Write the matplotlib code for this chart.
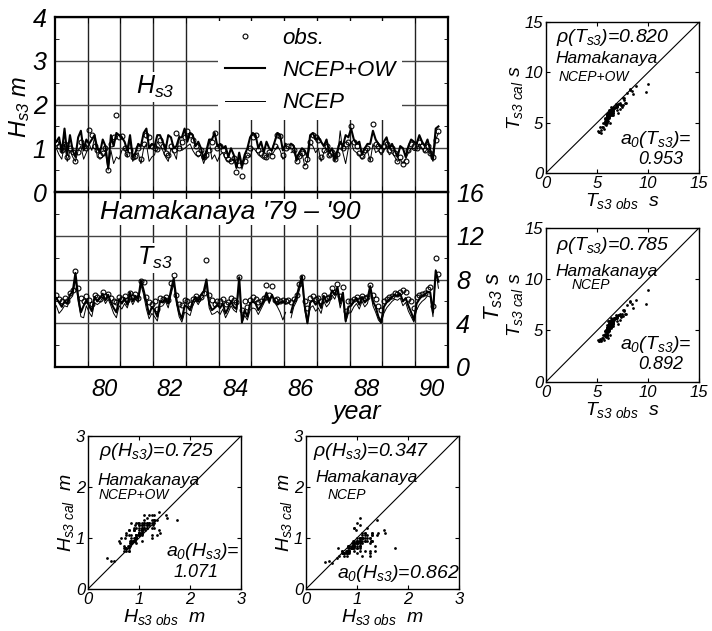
import numpy as np
import matplotlib
matplotlib.use('Agg')
import matplotlib.pyplot as plt
from matplotlib.lines import Line2D

plt.rcParams['font.family'] = ['Liberation Sans', 'DejaVu Sans']
plt.rcParams['font.style'] = 'italic'
plt.rcParams['mathtext.fontset'] = 'custom'
plt.rcParams['mathtext.rm'] = 'Liberation Sans:italic'
plt.rcParams['mathtext.it'] = 'Liberation Sans:italic'
plt.rcParams['mathtext.sf'] = 'Liberation Sans:italic'
plt.rcParams['mathtext.bf'] = 'Liberation Sans:italic:bold'

nan = np.nan

# monthly values, Jan 1979 - Sep 1990
hs_obs = [1.12, 1.05, 0.95, 1.10, 0.80, 1.00, 0.92, 0.72, 0.92, 1.15, 1.05, 1.00,
          1.42, 1.30, 1.05, 0.95, 0.85, 0.90, 1.00, 0.50, 1.10, 1.25, 1.75, 1.25,
          1.28, 1.00, 0.88, 0.95, 0.80, 0.82, 1.00, 0.75, 1.10, 1.30, 1.25, 1.05,
          1.00, 0.98, 1.20, 1.05, 0.90, 0.85, 1.05, 0.95, 1.35, 1.00, 1.15, 1.25,
          1.40, 1.30, 1.20, 1.05, 0.90, 0.95, 0.80, 0.85, 0.95, 1.15, 1.35, 1.00,
          1.05, 0.95, 0.85, 0.75, 0.72, 0.78, 0.46, 0.62, 0.37, 0.70, 0.85, 1.00,
          1.25, 1.30, 0.95, 0.90, 0.85, 0.80, 0.92, 0.82, 1.05, 1.30, 1.28, 0.85,
          1.00, 1.05, 1.05, 0.95, 0.70, 0.82, 0.90, 0.60, 0.75, 1.15, 1.30, 1.25,
          1.20, 0.80, 0.95, 1.05, 0.85, 0.92, 0.75, 0.88, 1.05, 1.00, 1.10, 1.15,
          1.52, 1.15, 1.05, 0.90, 0.82, 0.95, 1.00, 0.75, 1.55, 1.10, 1.05, 0.95,
          1.05, 1.10, 0.95, 1.00, 0.90, 0.72, 0.80, 0.65, 0.70, 0.95, 1.10, 1.05,
          1.00, 1.15, 1.05, 0.95, 1.05, 0.90, 0.80, 1.20, 1.40]
hs_ow = [1.15, 1.25, 0.90, 1.45, 0.85, 1.30, 0.95, 0.80, 1.25, 1.40, 0.95, 1.20,
         1.10, 1.20, 1.30, 1.00, 0.90, 1.20, 1.05, 0.55, 1.30, 1.05, 1.35, 1.30,
         1.25, 1.15, 0.95, 1.30, 0.80, 0.90, 1.10, 1.05, 1.35, 1.45, 1.00, 1.10,
         1.05, 1.30, 1.30, 1.15, 0.95, 1.30, 1.25, 1.00, 1.05, 1.25, 1.25, 1.45,
         1.15, 1.35, 1.30, 1.05, 1.15, 1.00, 0.75, 0.95, 1.20, 1.20, 1.35, 1.05,
         1.10, 1.00, 1.05, 0.80, 1.00, 0.85, 0.55, 0.90, 0.60, 0.85, 1.00, 1.25,
         1.35, 1.30, 1.00, 1.15, 0.90, 1.15, 1.00, 0.95, 1.15, 1.35, 1.30, 0.95,
         1.10, nan, 1.10, 1.05, 0.75, 0.90, 1.00, 0.95, 0.80, 1.30, 1.35, 1.20,
         1.25, 1.15, 1.05, 1.20, 0.90, 1.00, 0.75, 0.95, 1.15, 1.05, 1.30, 1.25,
         1.45, 1.20, 1.10, 1.15, 0.85, 1.00, 1.10, 1.10, 1.40, 1.20, 1.10, 1.00,
         1.15, 1.25, 1.00, 1.10, 0.95, 0.80, 1.05, 1.00, 0.80, 1.05, 1.20, 1.15,
         1.10, 1.30, 1.15, 1.05, 1.20, 0.95, 0.75, 1.45, 1.50]
hs_ncep = [1.00, 0.85, 0.75, 1.10, 0.70, 0.95, 0.80, 0.70, 0.95, 1.05, 0.75, 0.90,
           1.10, 0.95, 1.25, 0.80, 0.75, 0.80, 0.90, 0.50, 0.95, 0.65, 0.80, 0.75,
           0.95, 1.00, 0.80, 1.20, 0.70, 0.85, 0.90, 0.65, 1.00, 1.10, 0.70, 0.80,
           0.85, 1.15, 1.05, 0.95, 0.80, 0.70, 1.00, 0.90, 0.75, 1.30, 0.95, 1.00,
           1.05, 1.10, 0.95, 0.85, 0.80, 0.85, 0.65, 0.85, 1.20, 0.75, 0.85, 0.70,
           0.85, 0.90, 0.75, 0.70, 0.70, 0.75, 0.55, 0.80, 0.52, 0.75, 0.85, 0.80,
           1.00, 0.95, 0.85, 0.80, 0.75, 0.75, 0.90, 0.85, 0.95, 1.05, 0.95, 0.75,
           0.80, nan, 0.90, 0.95, 0.70, 0.80, 0.90, 0.60, 0.70, 1.10, 1.05, 0.90,
           1.00, 0.70, 0.90, 1.00, 0.80, 0.85, 0.70, 0.80, 1.40, 0.90, 0.65, 1.00,
           1.15, 0.95, 0.90, 0.85, 0.75, 0.85, 0.95, 0.70, 1.10, 0.90, 0.95, 0.85,
           0.95, 1.05, 0.85, 0.90, 0.80, 0.70, 0.75, 0.65, 0.75, 0.90, 1.00, 0.95,
           0.95, 1.10, 1.00, 0.90, 1.00, 0.85, 0.70, 1.20, 1.35]

ts_obs = [6.6, 6.2, 6.0, 6.3, 6.0, 6.8, 7.0, 8.8, 7.2, 6.3, 6.0, 6.5,
          6.1, 5.8, 6.6, 6.4, 6.2, 6.9, 6.5, 6.7, 6.3, 6.0, 5.9, 6.4,
          6.2, 6.5, 6.1, 6.8, 6.4, 6.7, 6.3, 7.9, 7.8, 6.4, 5.9, 5.8,
          6.0, 5.3, 6.3, 6.2, 6.4, 6.1, 7.7, 8.4, 6.6, 5.8, 5.7, 6.1,
          6.0, 5.8, 6.2, 6.5, 6.2, 6.4, 6.8, 9.8, 6.6, 6.1, 5.8, 6.0,
          6.0, 6.2, 5.8, 5.9, 6.3, 6.1, 5.9, 8.2, 5.2, 6.0, 5.5, 6.1,
          6.4, 6.2, 5.9, 6.0, 6.3, 7.5, 6.6, 7.4, 6.1, 6.2, 6.0, 6.1,
          6.0, 6.1, 5.9, 6.2, 6.6, 7.6, 8.2, 6.0, 5.4, 6.3, 6.5, 6.2,
          6.3, 6.0, 6.6, 6.3, 6.4, 7.2, 6.9, 7.6, 6.5, 7.3, 5.1, 6.0,
          6.0, 6.2, 6.4, 6.1, 6.5, 6.3, 6.4, 7.5, 6.6, 6.2, 5.6, 5.2,
          6.0, 6.2, 6.4, 6.5, 6.8, 6.7, 6.9, 7.0, 6.9, 6.2, 6.0, 5.4,
          6.4, 6.6, 6.7, 6.8, 7.1, 7.3, 5.6, 10.0, 8.5]
ts_ow = [6.3, 5.9, 5.5, 6.0, 5.8, 6.6, 6.9, 8.6, 6.4, 5.0, 5.6, 6.1,
         5.6, 5.1, 6.4, 6.0, 6.3, 6.7, 6.1, 6.6, 5.9, 5.4, 5.0, 6.2,
         5.8, 6.3, 5.7, 6.8, 6.0, 6.5, 6.2, 7.9, 7.0, 5.9, 4.8, 5.5,
         5.2, 4.6, 6.0, 5.9, 6.3, 5.8, 7.0, 8.1, 6.2, 5.0, 4.4, 5.6,
         5.5, 5.2, 6.0, 6.4, 6.0, 6.6, 6.9, 8.0, 5.8, 5.2, 5.4, 5.7,
         5.4, 5.8, 4.9, 5.4, 6.0, 5.5, 5.3, 8.2, 4.1, 5.2, 4.6, 5.8,
         6.0, 5.8, 5.2, 5.6, 6.1, 6.8, 6.0, 6.6, 6.0, 5.7, 5.9, 6.0,
         5.8, nan, 5.0, 5.9, 6.4, 7.4, 8.3, 5.6, 4.0, 5.9, 6.1, 5.7,
         6.0, 5.4, 6.5, 5.9, 6.2, 7.0, 6.6, 7.3, 5.8, 6.8, 4.2, 5.5,
         5.6, 6.0, 6.3, 5.7, 6.4, 5.9, 6.2, 7.4, 6.0, 5.5, 4.6, 4.1,
         5.5, 5.9, 6.2, 6.4, 6.6, 6.5, 6.7, 6.0, 6.3, 5.6, 5.0, 4.3,
         5.8, 6.2, 6.5, 6.6, 6.9, 6.8, 5.0, 8.8, 7.8]
ts_ncep = [5.6, 4.9, 5.2, 5.6, 5.5, 6.2, 6.5, 8.0, 6.0, 4.6, 4.5, 5.6,
           5.0, 4.6, 5.9, 5.7, 5.9, 6.4, 5.8, 6.2, 5.6, 4.9, 4.5, 5.6,
           5.3, 5.8, 5.4, 6.3, 5.7, 6.2, 5.9, 7.5, 6.6, 5.3, 4.4, 4.9,
           4.6, 4.2, 5.5, 5.6, 6.0, 5.4, 6.6, 7.6, 5.8, 4.6, 4.1, 5.0,
           4.9, 4.7, 5.6, 6.1, 5.7, 6.2, 6.5, 7.6, 5.4, 4.8, 4.9, 5.1,
           4.8, 5.3, 4.5, 5.0, 5.6, 5.2, 5.0, 7.8, 4.0, 4.7, 4.3, 5.2,
           5.4, 5.3, 4.8, 5.3, 5.8, 6.4, 5.8, 6.6, 5.9, 5.5, 5.0, 4.3,
           5.0, nan, 4.5, 5.5, 6.0, 7.0, 7.9, 5.2, 4.0, 5.4, 5.6, 5.1,
           5.4, 4.9, 6.0, 5.5, 5.8, 6.6, 6.2, 6.9, 5.4, 6.3, 4.1, 4.9,
           5.0, 5.5, 5.8, 5.3, 6.0, 5.5, 5.8, 7.0, 5.6, 5.0, 4.3, 4.0,
           4.9, 5.4, 5.7, 6.0, 6.2, 6.1, 6.3, 5.6, 5.9, 5.1, 4.6, 4.1,
           5.2, 5.7, 6.0, 6.2, 6.5, 6.4, 4.6, 8.9, 7.2]

t = 1979 + (np.arange(len(hs_obs)) + 0.5) / 12
year_lines = np.arange(1980, 1991)
year_labels = ['80', '82', '84', '86', '88', '90']

fig = plt.figure(figsize=(7.12, 6.31), dpi=100)
ax1 = fig.add_axes([0.0772, 0.6957, 0.552, 0.2773])
ax2 = fig.add_axes([0.0772, 0.4184, 0.552, 0.2773])

for ax in (ax1, ax2):
    ax.set_xlim(1979, 1991)
    ax.set_xticks(year_lines, minor=True)
    ax.set_xticks(np.arange(1980.5, 1991, 2))
    ax.grid(True, which='minor', axis='x', color='#222222', lw=1.0)
    ax.grid(True, which='major', axis='y', color='#444444', lw=1.0)
    ax.tick_params(axis='x', which='minor', direction='in', top=True, bottom=True, length=4)
    ax.tick_params(axis='x', which='major', length=0)
    ax.tick_params(axis='y', which='minor', direction='in', left=True, right=True, length=3)
    ax.tick_params(axis='y', which='major', length=0)
    for s in ax.spines.values():
        s.set_linewidth(1.6)

# Hs panel
ax1.plot(t, hs_ncep, color='black', lw=0.7)
ax1.plot(t, hs_ow, color='black', lw=1.5)
ax1.plot(t, hs_obs, 'o', ms=3.5, mfc='none', mec='black', mew=0.8)
ax1.set_ylim(0, 4)
ax1.set_yticks([0, 1, 2, 3, 4])
ax1.set_yticks(np.arange(0.5, 4, 1), minor=True)
ax1.tick_params(axis='x', labelbottom=False)
ax1.tick_params(axis='y', labelsize=18, pad=6)
ax1.text(0.254, 0.6, r'$H_{s3}$', transform=ax1.transAxes, fontsize=18,
         ha='center', va='center', bbox=dict(fc='white', ec='none', pad=1))
fig.text(20 / 712, 1 - 107 / 631, r'$H_{s3}\ m$', fontsize=17, rotation=90,
         ha='center', va='center')

handles = [Line2D([], [], marker='o', ls='none', ms=3.5, mfc='none', mec='black', mew=0.8),
           Line2D([], [], color='black', lw=1.5),
           Line2D([], [], color='black', lw=0.7)]
leg = ax1.legend(handles, ['obs.', 'NCEP+OW', 'NCEP'], loc='upper left',
                 bbox_to_anchor=(0.415, 0.975), fontsize=16, frameon=True,
                 facecolor='white', edgecolor='none', framealpha=1, fancybox=False,
                 borderaxespad=0, borderpad=0.3, handlelength=1.8, handletextpad=0.8,
                 labelspacing=0.5)
leg.set_zorder(5)

# Ts panel
ax2.plot(t, ts_ncep, color='black', lw=0.7)
ax2.plot(t, ts_ow, color='black', lw=1.5)
ax2.plot(t, ts_obs, 'o', ms=3.5, mfc='none', mec='black', mew=0.8)
ax2.set_ylim(0, 16)
ax2.set_yticks([0, 4, 8, 12, 16])
ax2.set_yticks(np.arange(2, 16, 4), minor=True)
ax2.set_xticklabels(year_labels)
ax2.tick_params(axis='x', labelsize=17, pad=8)
ax2.tick_params(axis='y', labelleft=False, labelright=True, labelsize=18, pad=6)
fig.text(494 / 712, 1 - 296 / 631, r'$T_{s3}\ s$', fontsize=16, rotation=90,
         ha='center', va='center')
ax2.text(0.768, -0.257, 'year', transform=ax2.transAxes, fontsize=18,
         ha='center', va='center')
ax2.text(0.254, 0.623, r'$T_{s3}$', transform=ax2.transAxes, fontsize=18,
         ha='center', va='center', bbox=dict(fc='white', ec='none', pad=1))
ax2.text(0.445, 0.886, "Hamakanaya '79 \u2013 '90", transform=ax2.transAxes,
         fontsize=19, ha='center', va='center',
         bbox=dict(fc='white', ec='none', pad=1))


def scatter_panel(rect, x, y, lim, ticks, xlab, ylab):
    ax = fig.add_axes(rect)
    ax.plot(x, y, 'o', ms=2.0, color='black', mew=0, ls='none')
    ax.axline((0, 0), slope=1, color='black', lw=0.8)
    ax.set_xlim(0, lim)
    ax.set_ylim(0, lim)
    ax.set_xticks(ticks)
    ax.set_yticks(ticks)
    ax.tick_params(direction='in', top=True, right=True, length=3, labelsize=12, pad=2)
    ax.set_xlabel(xlab, fontsize=14, labelpad=0)
    ax.set_ylabel(ylab, fontsize=14, labelpad=0)
    for s in ax.spines.values():
        s.set_linewidth(1.0)
    return ax


ts_ticks = [0, 5, 10, 15]
hs_ticks = [0, 1, 2, 3]

a = scatter_panel([0.767, 0.726, 0.215, 0.239], ts_obs, ts_ow, 15, ts_ticks,
                  r'$T_{s3\ obs}\ \ s$', r'$T_{s3\ cal}\ s$')
a.text(1.0, 13.5, r'$\rho(T_{s3})$=0.820', fontsize=14, va='center')
a.text(0.9, 11.4, 'Hamakanaya', fontsize=12.5, va='center')
a.text(1.2, 9.5, 'NCEP+OW', fontsize=10, va='center')
a.text(14.2, 3.3, r'$a_0(T_{s3})$=', fontsize=14, va='center', ha='right')
a.text(13.4, 1.3, '0.953', fontsize=13, va='center', ha='right')

b = scatter_panel([0.767, 0.395, 0.215, 0.244], ts_obs, ts_ncep, 15, ts_ticks,
                  r'$T_{s3\ obs}\ \ s$', r'$T_{s3\ cal}\ s$')
b.text(1.0, 13.3, r'$\rho(T_{s3})$=0.785', fontsize=14, va='center')
b.text(0.9, 10.7, 'Hamakanaya', fontsize=12.5, va='center')
b.text(2.5, 9.4, 'NCEP', fontsize=10, va='center')
b.text(14.2, 3.6, r'$a_0(T_{s3})$=', fontsize=14, va='center', ha='right')
b.text(13.4, 1.65, '0.892', fontsize=13, va='center', ha='right')

c = scatter_panel([0.1236, 0.0666, 0.215, 0.2425], hs_obs, hs_ow, 3, hs_ticks,
                  r'$H_{s3\ obs}\ \ m$', r'$H_{s3\ cal}\ \ m$')
c.text(0.22, 2.69, r'$\rho(H_{s3})$=0.725', fontsize=14, va='center')
c.text(0.18, 2.13, 'Hamakanaya', fontsize=12.5, va='center')
c.text(0.2, 1.84, 'NCEP+OW', fontsize=10, va='center')
c.text(2.97, 0.73, r'$a_0(H_{s3})$=', fontsize=14, va='center', ha='right')
c.text(2.55, 0.33, '1.071', fontsize=13, va='center', ha='right')

d = scatter_panel([0.4298, 0.0666, 0.215, 0.2425], hs_obs, hs_ncep, 3, hs_ticks,
                  r'$H_{s3\ obs}\ \ m$', r'$H_{s3\ cal}\ \ m$')
d.text(0.14, 2.69, r'$\rho(H_{s3})$=0.347', fontsize=14, va='center')
d.text(0.18, 2.18, 'Hamakanaya', fontsize=12.5, va='center')
d.text(0.43, 1.84, 'NCEP', fontsize=10, va='center')
d.text(0.6, 0.31, r'$a_0(H_{s3})$=0.862', fontsize=14, va='center')

fig.savefig('out.png', dpi=100)
